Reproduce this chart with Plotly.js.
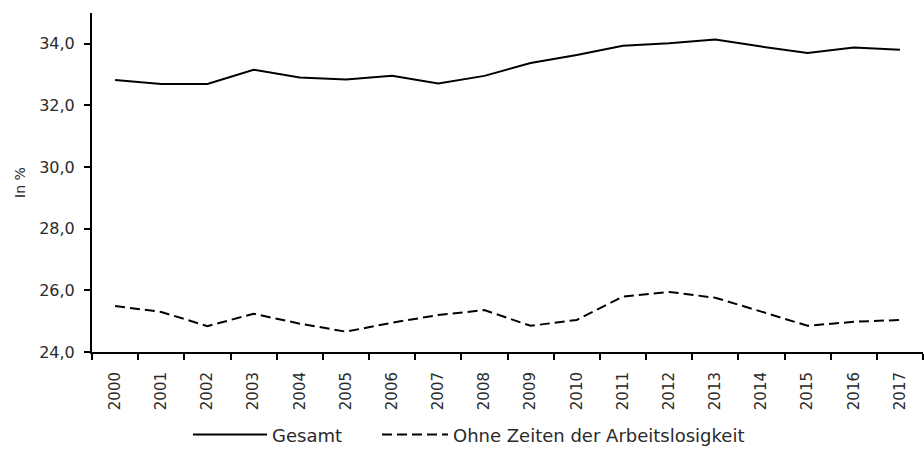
<!DOCTYPE html>
<html>
<head>
<meta charset="utf-8">
<script src="https://cdn.plot.ly/plotly-3.0.1.min.js"></script>
<style>html,body{margin:0;padding:0;background:#fff}#chart{width:924px;height:452px}</style>
</head>
<body>
<div id="chart"></div>
<script>
var years = ["2000","2001","2002","2003","2004","2005","2006","2007","2008","2009","2010","2011","2012","2013","2014","2015","2016","2017"];
var gesamt = [32.83,32.70,32.70,33.16,32.91,32.84,32.96,32.71,32.96,33.38,33.64,33.94,34.02,34.14,33.91,33.70,33.88,33.81];
var ohneArbeitslosigkeit = [25.49,25.30,24.84,25.24,24.92,24.66,24.95,25.20,25.36,24.85,25.04,25.80,25.95,25.76,25.31,24.85,24.98,25.04];
var seriesNames = ["Gesamt","Ohne Zeiten der Arbeitslosigkeit"];

var font = {family: "'DejaVu Sans', sans-serif", size: 16, color: "#2a2a2a"};
var xFont = {family: "'DejaVu Sans', sans-serif", size: 15, color: "#2a2a2a"};
var legendFont = {family: "'DejaVu Sans', sans-serif", size: 18, color: "#2a2a2a"};

var traces = [
  {x: years, y: gesamt, name: seriesNames[0], type: "scatter", mode: "lines",
   line: {color: "#000", width: 2}, legend: "legend"},
  {x: years, y: ohneArbeitslosigkeit, name: seriesNames[1], type: "scatter", mode: "lines",
   line: {color: "#000", width: 2, dash: "10px,5px"}, legend: "legend2"}
];

var legendBase = {orientation: "h", xref: "container", yref: "container",
                  xanchor: "left", yanchor: "middle", y: 0.038,
                  font: legendFont, bgcolor: "rgba(0,0,0,0)", borderwidth: 0};

var layout = {
  width: 924, height: 452,
  margin: {l: 92, r: 1, t: 13, b: 100},
  paper_bgcolor: "#fff", plot_bgcolor: "#fff",
  font: font,
  separators: ",.",
  showlegend: true,
  legend: Object.assign({}, legendBase, {x: 188 / 924, itemwidth: 74}),
  legend2: Object.assign({}, legendBase, {x: 377 / 924, itemwidth: 66}),
  xaxis: {type: "category", range: [-0.5, 17.5], automargin: false,
          showline: true, linecolor: "#000", linewidth: 2,
          ticks: "outside", tickson: "boundaries", ticklen: 6, tickwidth: 2, tickcolor: "#000",
          ticklabelstandoff: 12,
          tickangle: -90, showgrid: false, zeroline: false, tickfont: xFont},
  yaxis: {range: [24, 35], tickvals: [24,26,28,30,32,34], tickformat: ".1f", automargin: false,
          showline: true, linecolor: "#000", linewidth: 2,
          ticks: "outside", ticklen: 6, tickwidth: 2, tickcolor: "#000",
          ticklabelstandoff: 6,
          showgrid: false, zeroline: false, tickfont: font,
          title: {text: "In %", font: {family: "'DejaVu Sans', sans-serif", size: 14, color: "#2a2a2a"}, standoff: 10}}
};

Plotly.newPlot("chart", traces, layout, {displayModeBar: false, staticPlot: true});
</script>
</body>
</html>
